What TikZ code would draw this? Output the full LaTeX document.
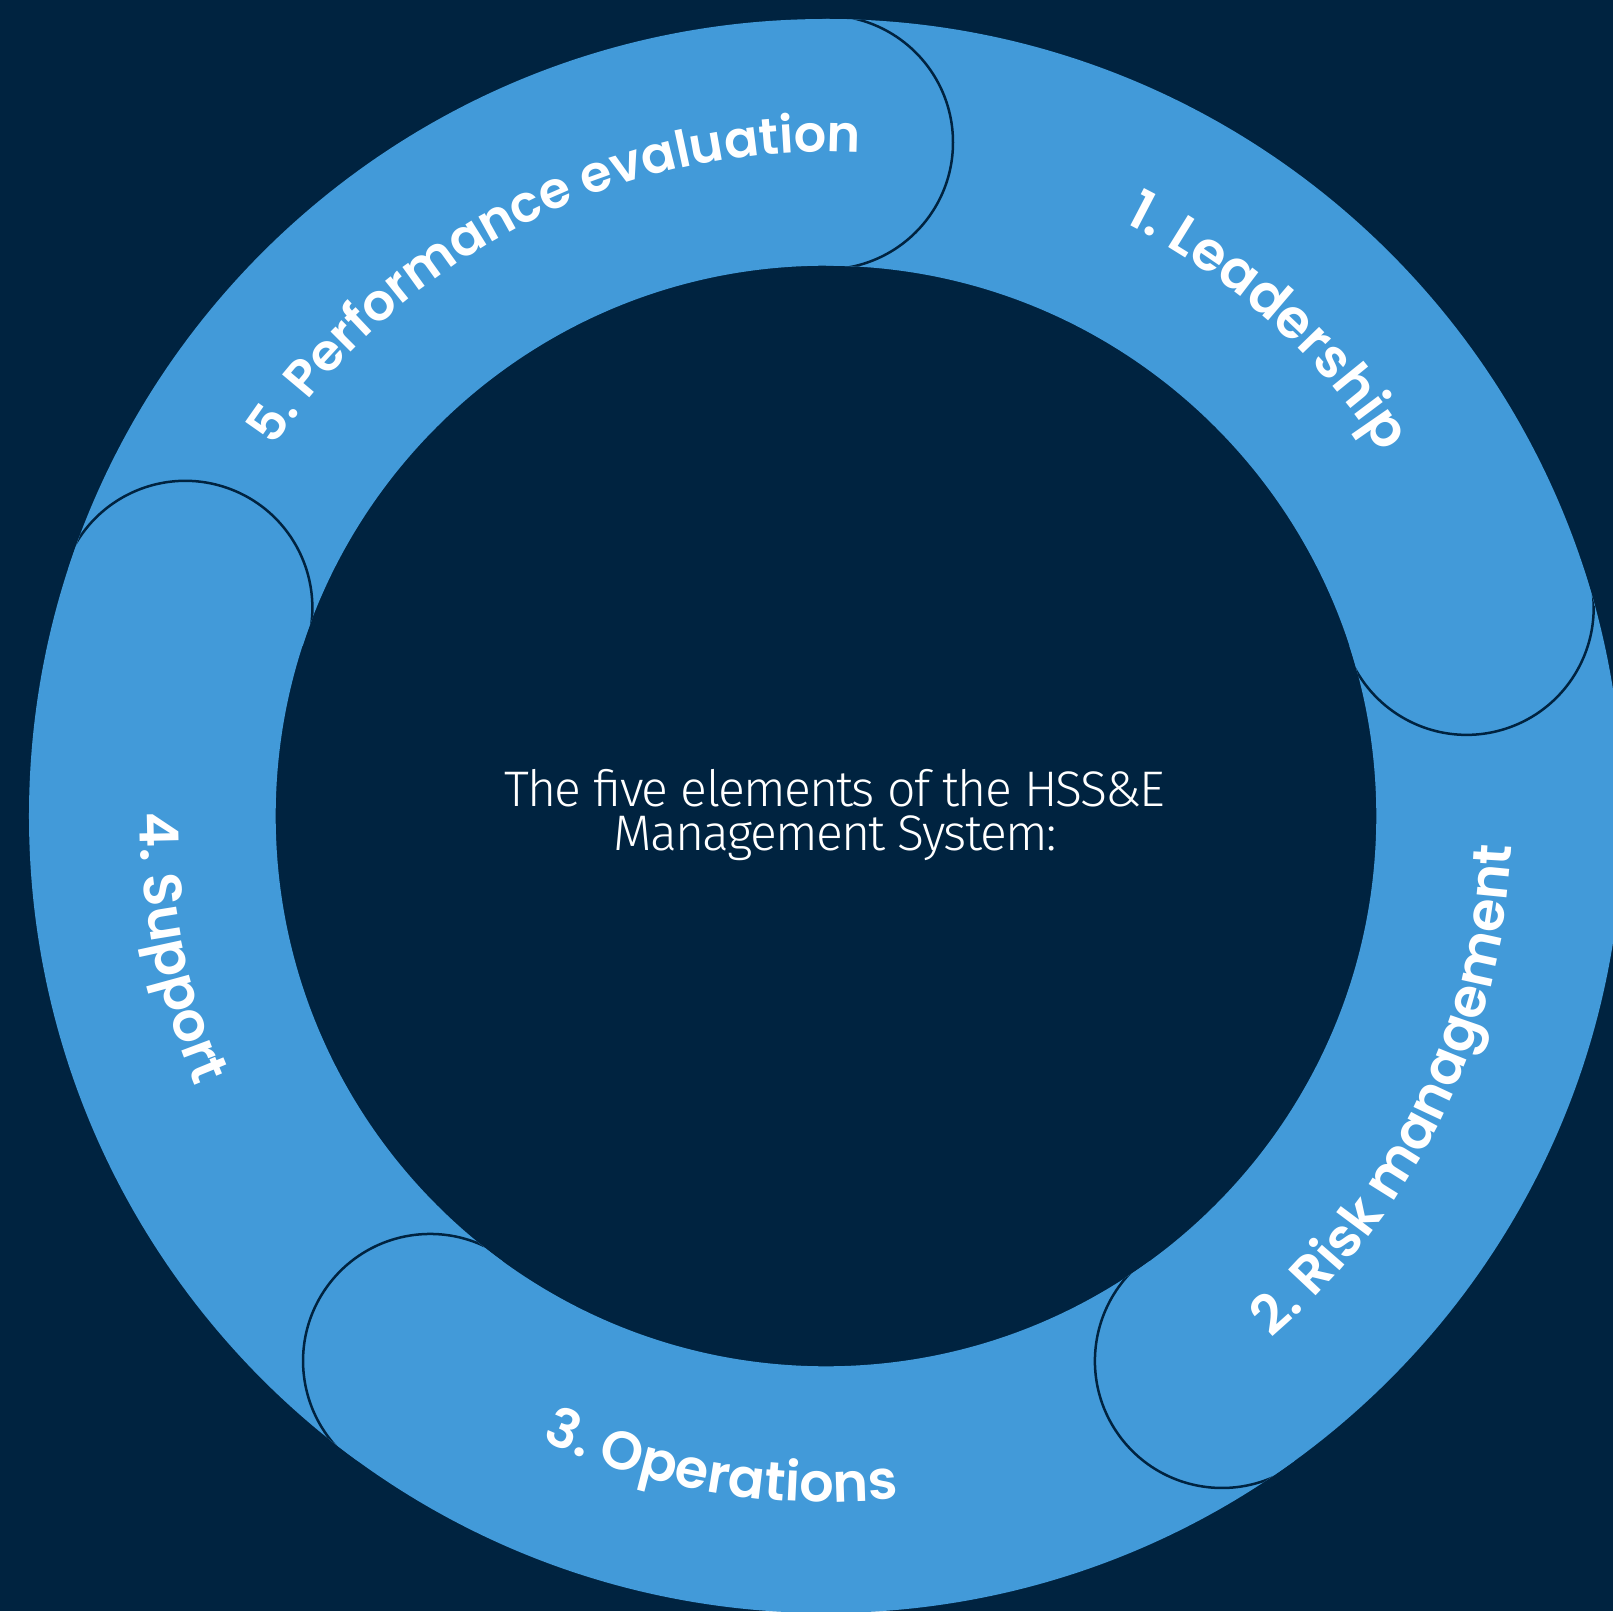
\documentclass[tikz,border=0pt]{standalone}
\usepackage{fontspec}
\usepackage{tikz}
\usetikzlibrary{decorations.text}

\newfontfamily\ringfont{Poppins SemiBold}
\newfontfamily\titlefont{Fira Sans Light}[LetterSpace=-3.5]

\definecolor{navy}{RGB}{0,35,64}
\definecolor{ringblue}{RGB}{66,154,217}

\newcommand{\ringinner}{550.3}
\newcommand{\ringouter}{797}
\newcommand{\ringmid}{673.6}
\newcommand{\capradius}{127}

\begin{document}
\begin{tikzpicture}[x=1pt, y=1pt,
    capdisc/.style={fill=ringblue, draw=navy, line width=2.5pt},
    ringlabel/.style 2 args={decorate, decoration={text along path, text align=center,
        text={|\ringfont\fontsize{#1}{#1}\selectfont\color{white}|#2}}},
    title/.style={text=white, align=center, inner sep=0pt,
        font=\titlefont\fontsize{50}{44.5}\selectfont}
]
\useasboundingbox (-826,-795) rectangle (787,816);
\fill[navy] (-826,-795) rectangle (787,816);

% ring
\fill[ringblue, even odd rule] (0,0) circle[radius=\ringouter] (0,0) circle[radius=\ringinner];

% rounded heads of the five segments
\foreach \a in {90,18,-54,-126,-198}{
  \begin{scope}[rotate=\a, even odd rule]
    \clip (0,0) circle[radius=\ringouter] (0,0) circle[radius=\ringinner];
    \clip (400,0) rectangle (900,-300);
    \draw[capdisc] (\ringmid,0) circle[radius=\capradius];
  \end{scope}
}

% labels, read clockwise on top and counter-clockwise below
\path[ringlabel={51}{5. Performance evaluation}] (156.7:664) arc[start angle=156.7, end angle=76.7, radius=664];
\path[ringlabel={54}{1. Leadership}] (83.2:664) arc[start angle=83.2, end angle=13.2, radius=664];
\path[ringlabel={54}{2. Risk management}] (-66:686) arc[start angle=-66, end angle=14, radius=686];
\path[ringlabel={54}{3. Operations}] (-134.2:686) arc[start angle=-134.2, end angle=-64.2, radius=686];
\path[ringlabel={54}{4. Support}] (156.5:686) arc[start angle=156.5, end angle=226.5, radius=686];

\node[title] (title) at (9,1) {The five elements of the HSS\&E\\Management System:};
\end{tikzpicture}
\end{document}
